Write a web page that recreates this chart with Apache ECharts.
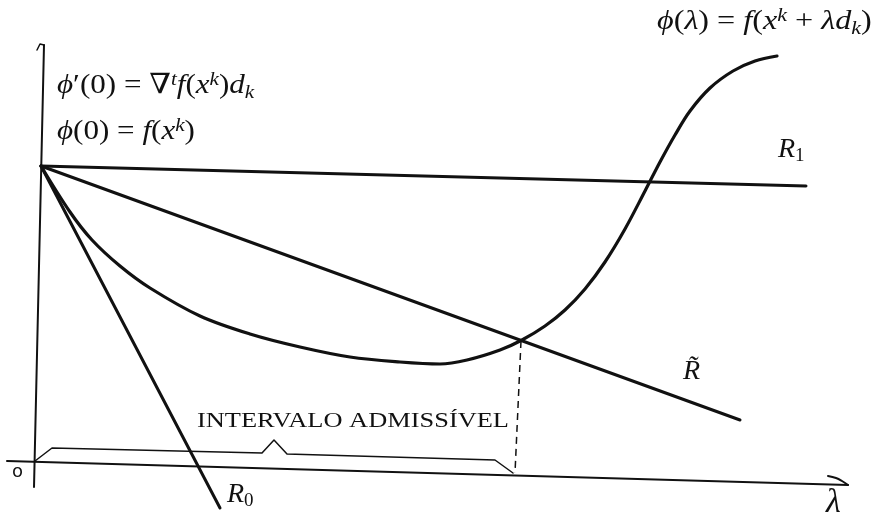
<!DOCTYPE html>
<html>
<head>
<meta charset="utf-8">
<script src="https://cdn.jsdelivr.net/npm/echarts@6/dist/echarts.min.js"></script>
<style>
  html, body { margin: 0; padding: 0; background: #fff; }
  #chart { width: 873px; height: 512px; }
</style>
</head>
<body>
<div id="chart"></div>
<script>
// Line-search sketch: phi(lambda), its tangent R0, the Armijo line R~ and R1.
// Coordinates are drawing units: x to the right, y downward (0..873, 0..512).

const verticalAxis = [[44, 45], [34, 487]];
const verticalHook = [[37, 50], [40, 44], [44, 45]];
const horizontalAxis = [[7, 461], [848, 485]];
const horizontalHook = [[828, 476], [836, 478], [842, 481], [848, 485]];

const lineR1 = [[41, 166], [806, 186]];
const lineRTilde = [[41, 166], [740, 420]];
const lineR0 = [[41, 166], [220, 508]];

const phiCurve = [
  [41, 166], [70, 212], [92, 240], [120, 266], [150, 288], [200, 316],
  [250, 334], [300, 347], [350, 357], [400, 362], [440, 364], [467, 360],
  [500, 350], [522, 340], [545, 326], [565, 310], [585, 289], [605, 262],
  [625, 229], [645, 191], [660, 162], [675, 135], [690, 111], [710, 88],
  [733, 71], [755, 61], [777, 56]
];

const admissibleDrop = [[521, 341], [515, 473]];
const admissibleBrace = [
  [35, 461], [52, 448], [262, 453], [274, 440], [287, 454], [495, 460], [513, 473]
];

const ink = '#111';

function lineSeries(data, width, extra) {
  return Object.assign({
    type: 'line',
    data: data,
    symbol: 'none',
    silent: true,
    lineStyle: { color: ink, width: width, cap: 'round', join: 'round' }
  }, extra || {});
}

const SERIF = '"Liberation Serif", "DejaVu Serif", serif';
const mathRich = {
  i: { font: 'italic 28px ' + SERIF, lineHeight: 32 },
  r: { font: '28px ' + SERIF, lineHeight: 32 },
  sup: { font: 'italic 19px ' + SERIF, lineHeight: 17, verticalAlign: 'top' },
  sub: { font: 'italic 19px ' + SERIF, lineHeight: 17, verticalAlign: 'bottom' },
  subr: { font: '19px ' + SERIF, lineHeight: 17, verticalAlign: 'bottom' }
};

function mathText(x, y, text, stretch) {
  return {
    type: 'text',
    x: x, y: y,
    scaleX: stretch || 1,
    silent: true,
    style: {
      text: text,
      rich: mathRich,
      fill: ink,
      align: 'left',
      textAlign: 'left',
      verticalAlign: 'top',
      textVerticalAlign: 'top'
    }
  };
}

function plainText(x, y, text, font, stretch) {
  return {
    type: 'text', x: x, y: y, scaleX: stretch || 1, silent: true,
    style: { text: text, font: font, fill: ink,
             align: 'left', textAlign: 'left', verticalAlign: 'top', textVerticalAlign: 'top' }
  };
}

const chart = echarts.init(document.getElementById('chart'), null, { renderer: 'canvas' });
chart.setOption({
  animation: false,
  backgroundColor: '#fff',
  grid: { left: 0, right: 0, top: 0, bottom: 0 },
  xAxis: { type: 'value', min: 0, max: 873, show: false },
  yAxis: { type: 'value', min: 0, max: 512, inverse: true, show: false },
  series: [
    lineSeries(verticalAxis, 2),
    lineSeries(verticalHook, 1.5),
    lineSeries(horizontalAxis, 2),
    lineSeries(horizontalHook, 2, { smooth: 0.4 }),
    lineSeries(lineR1, 3),
    lineSeries(lineRTilde, 3),
    lineSeries(lineR0, 3),
    lineSeries(phiCurve, 3.2, { smooth: 0.35 }),
    lineSeries(admissibleDrop, 1.5, { lineStyle: { color: ink, width: 1.5, type: [7, 5] } }),
    lineSeries(admissibleBrace, 1.5)
  ],
  graphic: [
    mathText(57, 70, '{i|ϕ}{r|′(0) = ∇}{sup|t}{i|f}{r|(}{i|x}{sup|k}{r|)}{i|d}{sub|k}', 1.11),
    mathText(57, 116, '{i|ϕ}{r|(0) = }{i|f}{r|(}{i|x}{sup|k}{r|)}', 1.11),
    mathText(657, 6, '{i|ϕ}{r|(}{i|λ}{r|) = }{i|f}{r|(}{i|x}{sup|k}{r| + }{i|λd}{sub|k}{r|)}', 1.15),
    mathText(778, 134, '{i|R}{subr|1}'),
    mathText(683, 356, '{i|R\u0303}'),
    mathText(227, 479, '{i|R}{subr|0}'),
    plainText(197, 410, 'INTERVALO ADMISSÍVEL', '22px ' + SERIF, 1.2),
    plainText(826, 486, 'λ', 'italic 34px ' + SERIF),
    plainText(12, 463, 'o', '18px "DejaVu Sans", sans-serif')
  ]
});
</script>
</body>
</html>
